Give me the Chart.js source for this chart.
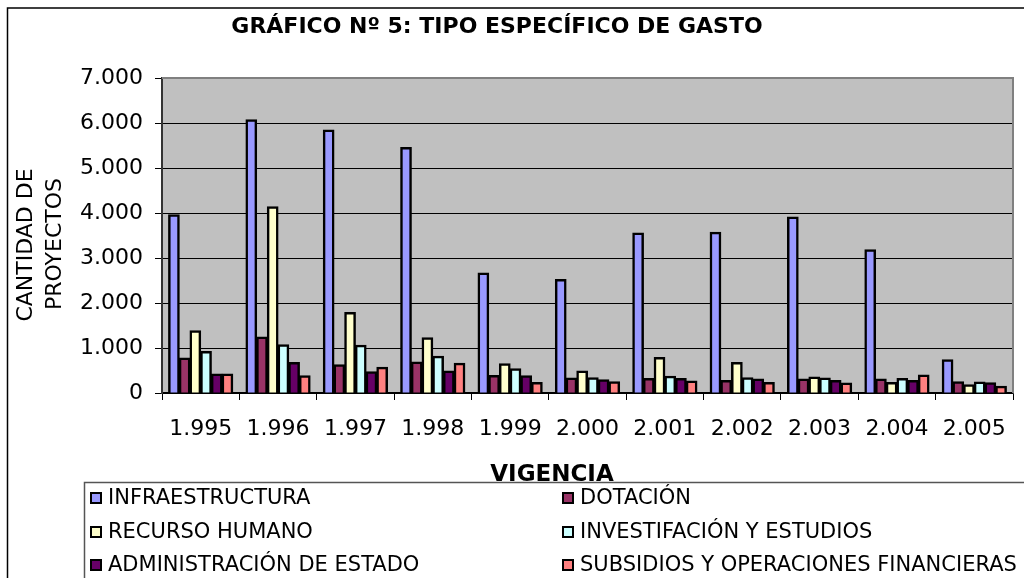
<!DOCTYPE html>
<html>
<head>
<meta charset="utf-8">
<script src="https://cdn.jsdelivr.net/npm/chart.js@4"></script>
<style>
  html, body { margin:0; padding:0; background:#fff; }
  #wrap { width:1024px; height:578px; position:relative; }
</style>
</head>
<body>
<div id="wrap"><canvas id="c" width="1024" height="578"></canvas></div>
<script>
// ---- data ----
const years = ["1.995","1.996","1.997","1.998","1.999","2.000","2.001","2.002","2.003","2.004","2.005"];
const infraestructura = [3960, 6070, 5845, 5455, 2665, 2520, 3555, 3575, 3910, 3185, 740];
const dotacion        = [ 780, 1245,  630,  690,  390,  335,  325,  280,  310,  310, 250];
const recursoHumano   = [1385, 4140, 1790, 1230,  650,  490,  790,  680,  355,  235, 185];
const investigacion   = [ 925, 1075, 1060,  815,  540,  340,  370,  340,  335,  320, 245];
const administracion  = [ 420,  680,  475,  490,  385,  295,  320,  310,  280,  280, 230];
const subsidios       = [ 420,  385,  575,  660,  235,  250,  265,  235,  220,  400, 150];
const yTicks = [0, 1000, 2000, 3000, 4000, 5000, 6000, 7000];

const seriesLabels = [
  "INFRAESTRUCTURA", "DOTACIÓN", "RECURSO HUMANO",
  "INVESTIFACIÓN Y ESTUDIOS", "ADMINISTRACIÓN DE ESTADO", "SUBSIDIOS Y OPERACIONES FINANCIERAS"
];
const seriesColors = ["#9999FF", "#993366", "#FFFFCC", "#CCFFFF", "#660066", "#FF8080"];
const seriesValues = [infraestructura, dotacion, recursoHumano, investigacion, administracion, subsidios];

const FONT = "'DejaVu Sans', Verdana, sans-serif";

function fmtThousands(v){
  return String(v).replace(/\B(?=(\d{3})+(?!\d))/g, ".");
}

// background of plot, frame, titles and legend
const decor = {
  id: "decor",
  beforeDraw(chart){
    const { ctx, chartArea: a } = chart;
    ctx.save();
    ctx.fillStyle = "#C0C0C0";
    ctx.fillRect(a.left, a.top, a.right - a.left, a.bottom - a.top);
    ctx.restore();
  },
  afterDraw(chart){
    const { ctx, chartArea: a } = chart;
    ctx.save();

    // plot area border (top + right)
    ctx.strokeStyle = "#808080";
    ctx.lineWidth = 2;
    ctx.beginPath();
    ctx.moveTo(a.left, a.top);
    ctx.lineTo(a.right, a.top);
    ctx.lineTo(a.right, a.bottom);
    ctx.stroke();

    // outer chart frame
    ctx.strokeStyle = "#000";
    ctx.lineWidth = 1.5;
    ctx.strokeRect(7.5, 8, 1100, 700);

    // main title
    ctx.fillStyle = "#000";
    ctx.textAlign = "center";
    ctx.textBaseline = "middle";
    ctx.font = "bold 22px " + FONT;
    ctx.fillText("GRÁFICO Nº 5: TIPO ESPECÍFICO DE GASTO", 497, 27);

    // y axis title (two lines, rotated)
    ctx.font = "22px " + FONT;
    ctx.save();
    ctx.translate(26, 245);
    ctx.rotate(-Math.PI / 2);
    ctx.fillText("CANTIDAD DE", 0, 0);
    ctx.restore();
    ctx.save();
    ctx.translate(55, 244);
    ctx.rotate(-Math.PI / 2);
    ctx.fillText("PROYECTOS", 0, 0);
    ctx.restore();

    // legend box
    ctx.strokeStyle = "#555";
    ctx.lineWidth = 1.5;
    ctx.strokeRect(84.5, 482.5, 1000, 200);

    // x axis title
    ctx.fillStyle = "#000";
    ctx.font = "bold 23px " + FONT;
    ctx.textAlign = "center";
    ctx.textBaseline = "alphabetic";
    ctx.fillText("VIGENCIA", 552, 481);

    // legend items
    const colX = [91, 563];
    const rowY = [498, 532, 565];
    ctx.font = "21px " + FONT;
    ctx.textAlign = "left";
    ctx.textBaseline = "middle";
    chart.data.datasets.forEach((ds, i) => {
      const x = colX[i % 2];
      const y = rowY[Math.floor(i / 2)];
      ctx.fillStyle = ds.backgroundColor;
      ctx.fillRect(x, y - 5, 10, 10);
      ctx.strokeStyle = "#000";
      ctx.lineWidth = 2;
      ctx.strokeRect(x, y - 5, 10, 10);
      ctx.fillStyle = "#000";
      ctx.fillText(ds.label, x + 17, y + 1);
    });

    ctx.restore();
  }
};

new Chart(document.getElementById("c").getContext("2d"), {
  type: "bar",
  data: {
    labels: years,
    datasets: seriesLabels.map((label, i) => ({
      label,
      data: seriesValues[i],
      backgroundColor: seriesColors[i],
      borderColor: "#000",
      borderWidth: 2.5,
      inflateAmount: 0.5,
      categoryPercentage: 0.83,
      barPercentage: 1
    }))
  },
  options: {
    responsive: false,
    animation: false,
    layout: { padding: { left: 0, top: 78, right: 11, bottom: 0 } },
    plugins: {
      legend: { display: false },
      title: { display: false },
      tooltip: { enabled: false }
    },
    scales: {
      x: {
        afterFit(scale){ scale.height = 185; },
        grid: { display: true, drawOnChartArea: false, drawTicks: true, tickLength: 7, color: "#000", offset: true },
        border: { color: "#000", width: 1.5 },
        ticks: { color: "#000", font: { family: FONT, size: 22 }, padding: 16, maxRotation: 0, autoSkip: false }
      },
      y: {
        min: 0,
        max: 7000,
        afterFit(scale){ scale.width = 162; },
        afterBuildTicks(scale){ scale.ticks = yTicks.map(v => ({ value: v })); },
        grid: { color: "#000", lineWidth: 1, tickLength: 7 },
        border: { color: "#333", width: 2 },
        ticks: {
          color: "#000",
          font: { family: FONT, size: 22 },
          padding: 12,
          callback: v => fmtThousands(v)
        }
      }
    }
  },
  plugins: [decor]
});
</script>
</body>
</html>
